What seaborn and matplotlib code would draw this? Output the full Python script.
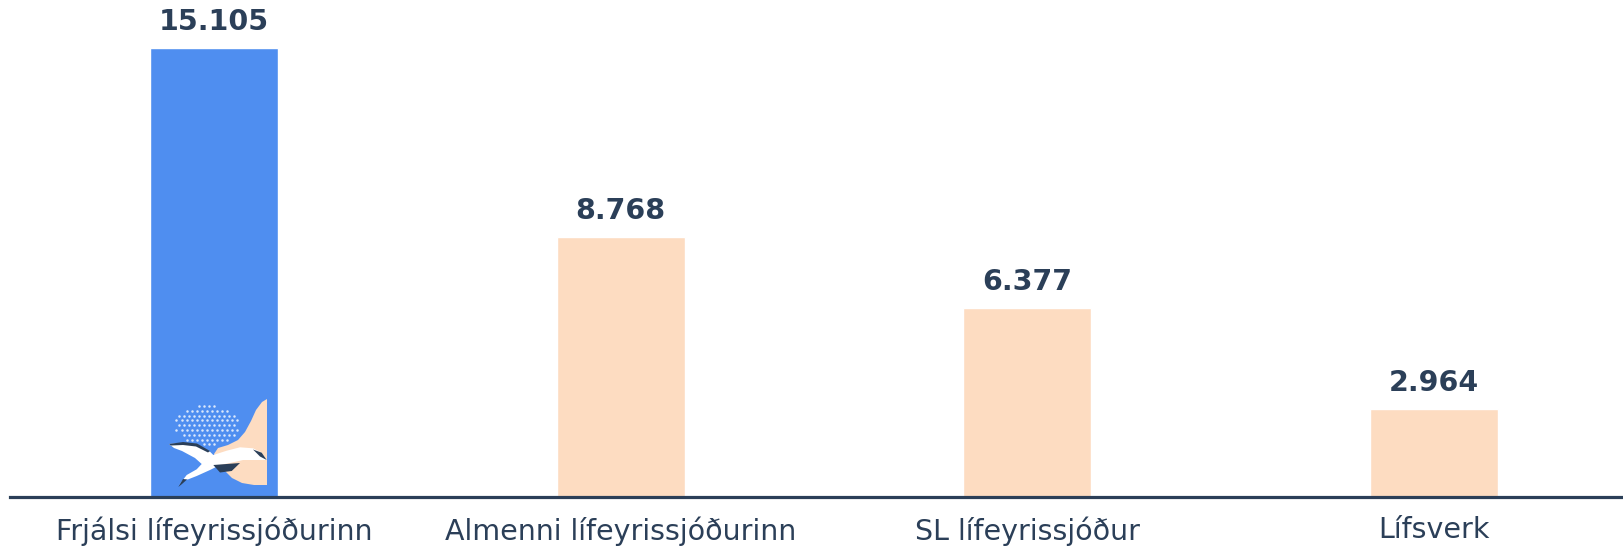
import numpy as np
import pandas as pd
import matplotlib
matplotlib.use("Agg")
import matplotlib.pyplot as plt
import seaborn as sns
from matplotlib.patches import Polygon

# chart data
funds = ["Frjálsi lífeyrissjóðurinn", "Almenni lífeyrissjóðurinn", "SL lífeyrissjóður", "Lífsverk"]
values = [15.105, 8.768, 6.377, 2.964]
value_labels = ["15.105", "8.768", "6.377", "2.964"]
bar_colors = ["#4f8ef0", "#fddcc1", "#fddcc1", "#fddcc1"]

NAVY = "#2b3f58"
W, H = 1624, 549


def draw_logo(fig):
    # small decorative bird logo at the foot of the first bar
    lax = fig.add_axes([150 / W, (H - 497) / H, 117 / W, 107 / H])
    lax.set_xlim(0, 117)
    lax.set_ylim(107, 0)
    lax.axis("off")
    peach = [(117, 9), (112, 12), (106, 20), (101, 31), (95, 42), (88, 50), (78, 55),
             (68, 58), (64, 64), (68, 72), (74, 80), (82, 88), (92, 93), (104, 95), (117, 95)]
    lax.add_patch(Polygon(peach, closed=True, fc="#fddcc1", ec="none"))
    # dotted cloud
    for row, yy in enumerate(np.arange(16, 56, 4.8)):
        off = 2.5 if row % 2 else 0
        for xx in np.arange(24 + off, 92, 5.0):
            if ((xx - 57) / 32) ** 2 + ((yy - 35) / 20) ** 2 < 1:
                lax.plot(xx, yy, "o", ms=1.8, color="white", alpha=0.8, mec="none")
    bird = [(19, 54), (33, 52.7), (46.7, 54), (60, 61.7), (63.3, 65), (76.7, 60.7), (90, 57.3),
            (103, 58.3), (111.7, 62.7), (116.7, 70), (106, 70), (93, 70), (80, 73),
            (70, 75), (60, 80), (46.7, 86), (38.3, 89.3), (33.3, 90), (28.3, 96),
            (36.7, 85), (46.7, 79.3), (51.7, 74), (45, 68), (32, 61), (24, 58)]
    lax.add_patch(Polygon(bird, closed=True, fc="white", ec="none"))
    shade1 = [(19, 54), (33, 52), (47, 53.5), (60, 61), (58, 62.5), (46, 56.5), (33, 55), (21, 55.5)]
    shade2 = [(63.3, 75), (90, 73), (81.7, 81), (70, 82.5)]
    shade3 = [(103, 59.5), (111.7, 62.7), (116.7, 70), (110, 66.5)]
    shade4 = [(28.3, 97), (33, 89), (37, 89.5), (32, 94)]
    for s in (shade1, shade2, shade3, shade4):
        lax.add_patch(Polygon(s, closed=True, fc=NAVY, ec="none"))


def main():
    sns.set_theme(style="white")
    plt.rcParams["font.family"] = ["DejaVu Sans"]

    df = pd.DataFrame({"fund": funds, "value": values})

    fig = plt.figure(figsize=(W / 100, H / 100), dpi=100)
    ax = fig.add_axes([10 / W, (H - 497) / H, 1 - 10 / W, 497 / H])

    sns.barplot(data=df, x="fund", y="value", hue="fund", palette=bar_colors,
                width=0.315, saturation=1, legend=False, ax=ax)

    for i, (v, lab) in enumerate(zip(values, value_labels)):
        ax.annotate(lab, (i, v), xytext=(0, 12), textcoords="offset pixels",
                    ha="center", va="bottom", fontsize=20.5, fontweight="bold", color=NAVY)

    ax.set_xlim(-0.502, 3.467)
    ax.set_ylim(0, 16.73)
    ax.set_xlabel("")
    ax.set_ylabel("")
    ax.set_yticks([])
    ax.tick_params(axis="x", length=0, pad=14, labelsize=20.5, labelcolor=NAVY)
    for side in ["top", "left", "right"]:
        ax.spines[side].set_visible(False)
    ax.spines["bottom"].set_color(NAVY)
    ax.spines["bottom"].set_linewidth(2.3)
    ax.spines["bottom"].set_zorder(5)

    draw_logo(fig)

    fig.savefig("out.png", dpi=100)


if __name__ == "__main__":
    main()
